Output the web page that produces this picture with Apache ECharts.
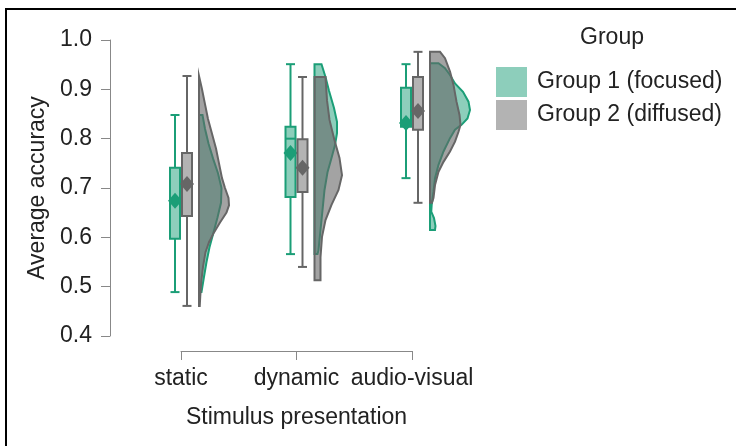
<!DOCTYPE html>
<html>
<head>
<meta charset="utf-8">
<script src="https://cdn.jsdelivr.net/npm/echarts@6/dist/echarts.min.js"></script>
<style>
  html, body { margin: 0; padding: 0; background: #fff; }
  #chart { width: 736px; height: 446px; }
</style>
</head>
<body>
<div id="chart"></div>
<script>
const categories = ['static', 'dynamic', 'audio-visual'];
const groupNames = ['Group 1 (focused)', 'Group 2 (diffused)'];

// box stats: [category, low whisker, q1, median, q3, high whisker, mean]
const group1Box = [
  [0, 0.489, 0.597, 0.675, 0.741, 0.848, 0.674],
  [1, 0.566, 0.682, 0.800, 0.824, 0.951, 0.771],
  [2, 0.720, 0.824, 0.835, 0.903, 0.951, 0.832]
];
const group2Box = [
  [0, 0.461, 0.643, 0.705, 0.771, 0.927, 0.708],
  [1, 0.540, 0.692, 0.740, 0.799, 0.925, 0.741],
  [2, 0.670, 0.818, 0.860, 0.925, 0.976, 0.856]
];

// half-violin density profiles: [accuracy, density]
const staticG1 = [[0.848, 0], [0.848, 0.7], [0.82, 1.2], [0.79, 1.9], [0.76, 2.8], [0.73, 3.8], [0.70, 4.5], [0.67, 4.4], [0.64, 3.7], [0.61, 2.9], [0.58, 2.1], [0.55, 1.5], [0.52, 1.0], [0.489, 0.5], [0.489, 0]];
const staticG2 = [[0.927, 0], [0.90, 0.6], [0.87, 1.2], [0.84, 1.8], [0.81, 2.6], [0.78, 3.4], [0.75, 4.0], [0.72, 4.6], [0.70, 5.2], [0.68, 5.9], [0.665, 6.0], [0.65, 5.5], [0.63, 4.2], [0.61, 3.0], [0.59, 2.0], [0.57, 1.3], [0.54, 0.8], [0.51, 0.45], [0.48, 0.25], [0.461, 0.15], [0.461, 0]];
const dynamicG1 = [[0.951, 0], [0.951, 1.4], [0.925, 2.2], [0.897, 2.9], [0.862, 3.9], [0.834, 4.5], [0.811, 4.5], [0.787, 4.1], [0.761, 3.4], [0.732, 2.6], [0.696, 2.0], [0.655, 1.6], [0.615, 1.2], [0.574, 0.8], [0.566, 0.6], [0.566, 0]];
const dynamicG2 = [[0.925, 0], [0.925, 2.2], [0.878, 2.5], [0.838, 3.0], [0.797, 4.0], [0.761, 5.0], [0.726, 5.5], [0.696, 4.8], [0.666, 3.4], [0.635, 2.2], [0.601, 1.5], [0.560, 1.2], [0.513, 1.2], [0.513, 0]];
const audioVisualG1 = [[0.953, 0], [0.953, 1.7], [0.943, 3.0], [0.929, 4.0], [0.912, 5.0], [0.895, 6.6], [0.875, 7.7], [0.858, 8.0], [0.841, 7.5], [0.828, 6.3], [0.818, 5.0], [0.801, 4.0], [0.774, 2.7], [0.747, 1.7], [0.720, 1.0], [0.692, 0.7], [0.666, 0.34], [0.652, 0.25], [0.639, 0.8], [0.623, 1.1], [0.615, 1.0], [0.615, 0]];
const audioVisualG2 = [[0.976, 0], [0.976, 2.0], [0.963, 3.0], [0.936, 4.0], [0.909, 4.7], [0.875, 5.3], [0.848, 5.9], [0.828, 6.1], [0.814, 5.7], [0.794, 5.0], [0.774, 4.0], [0.753, 2.7], [0.733, 1.7], [0.706, 1.0], [0.68, 0.7], [0.67, 0.4], [0.67, 0]];

const group1Violins = [staticG1, dynamicG1, audioVisualG1];
const group2Violins = [staticG2, dynamicG2, audioVisualG2];

const green = '#1b9e77';
const greenFill = '#8dcebb';
const grey = '#666666';
const greyFill = '#b3b3b3';
const font = 'Liberation Sans, Arial, sans-serif';
const fontSize = 23;

const boxWidth = 10;
const capWidth = 9;
const violinOffset = 18;
const densityScale = 5;

function boxRenderer(offset, stroke, fill) {
  return function (params, api) {
    const cat = api.value(0);
    const x = api.coord([cat, 0])[0] + offset;
    const yLow = api.coord([cat, api.value(1)])[1];
    const yQ1 = api.coord([cat, api.value(2)])[1];
    const yMed = api.coord([cat, api.value(3)])[1];
    const yQ3 = api.coord([cat, api.value(4)])[1];
    const yHigh = api.coord([cat, api.value(5)])[1];
    const yMean = api.coord([cat, api.value(6)])[1];
    const line = { stroke: stroke, lineWidth: 2 };
    return {
      type: 'group',
      children: [
        { type: 'line', shape: { x1: x, y1: yHigh, x2: x, y2: yLow }, style: line },
        { type: 'line', shape: { x1: x - capWidth / 2, y1: yHigh, x2: x + capWidth / 2, y2: yHigh }, style: line },
        { type: 'line', shape: { x1: x - capWidth / 2, y1: yLow, x2: x + capWidth / 2, y2: yLow }, style: line },
        { type: 'rect', shape: { x: x - boxWidth / 2, y: yQ3, width: boxWidth, height: yQ1 - yQ3 }, style: { fill: fill, stroke: stroke, lineWidth: 2 } },
        { type: 'line', shape: { x1: x - boxWidth / 2, y1: yMed, x2: x + boxWidth / 2, y2: yMed }, style: line },
        { type: 'polygon', shape: { points: [[x, yMean - 8], [x + 7, yMean], [x, yMean + 8], [x - 7, yMean]] }, style: { fill: stroke } }
      ]
    };
  };
}

function violinRenderer(profiles, stroke, fill) {
  return function (params, api) {
    const cat = api.value(0);
    const baseX = api.coord([cat, 0])[0] + violinOffset;
    const pts = profiles[cat].map(function (p) {
      return [baseX + p[1] * densityScale, api.coord([cat, p[0]])[1]];
    });
    return {
      type: 'polygon',
      shape: { points: pts },
      style: { fill: fill, stroke: stroke, lineWidth: 2 }
    };
  };
}

function rgba(hex, a) {
  const r = parseInt(hex.slice(1, 3), 16), g = parseInt(hex.slice(3, 5), 16), b = parseInt(hex.slice(5, 7), 16);
  return 'rgba(' + r + ',' + g + ',' + b + ',' + a + ')';
}

const chart = echarts.init(document.getElementById('chart'));
chart.setOption({
  animation: false,
  textStyle: { fontFamily: font },
  grid: { left: 181, right: 324, top: 40, bottom: 110 },
  graphic: [
    { type: 'rect', shape: { x: 6, y: 9, width: 800, height: 500 }, style: { fill: 'none', stroke: '#000', lineWidth: 2 } },
    { type: 'text', x: 612, y: 38, style: { text: 'Group', fontSize: fontSize, fontFamily: font, fill: '#222', textAlign: 'center', textVerticalAlign: 'middle' } }
  ],
  legend: {
    orient: 'vertical',
    left: 496,
    top: 67,
    padding: 0,
    itemWidth: 31,
    itemHeight: 30,
    itemGap: 3,
    icon: 'rect',
    selectedMode: false,
    textStyle: { fontSize: fontSize, color: '#222', fontFamily: font, padding: [0, 0, 0, 5] },
    data: [
      { name: groupNames[0], itemStyle: { color: greenFill, borderWidth: 0 } },
      { name: groupNames[1], itemStyle: { color: greyFill, borderWidth: 0 } }
    ]
  },
  xAxis: {
    type: 'category',
    data: categories,
    boundaryGap: false,
    offset: 15,
    name: 'Stimulus presentation',
    nameLocation: 'middle',
    nameGap: 55,
    nameTextStyle: { fontSize: fontSize, color: '#222' },
    axisLine: { lineStyle: { color: '#888', width: 1 } },
    axisTick: { length: 9, lineStyle: { color: '#888' } },
    axisLabel: { fontSize: fontSize, color: '#222', margin: 16, interval: 0 },
    splitLine: { show: false }
  },
  yAxis: {
    type: 'value',
    min: 0.4,
    max: 1.0,
    interval: 0.1,
    offset: 71,
    name: 'Average accuracy',
    nameLocation: 'middle',
    nameGap: 61,
    nameTextStyle: { fontSize: fontSize, color: '#222' },
    axisLine: { show: true, lineStyle: { color: '#888', width: 1 } },
    axisTick: { show: true, length: 9, lineStyle: { color: '#888' } },
    axisLabel: { fontSize: fontSize, color: '#222', margin: 18, formatter: function (v) { return v.toFixed(1); } },
    splitLine: { show: false }
  },
  series: [
    {
      type: 'custom', name: groupNames[0], clip: false, silent: true,
      itemStyle: { color: greenFill },
      encode: { x: 0, y: 1 },
      data: group1Violins.map(function (p, i) { return [i, p[0][0]]; }),
      renderItem: violinRenderer(group1Violins, green, rgba(green, 0.5))
    },
    {
      type: 'custom', name: groupNames[1], clip: false, silent: true,
      itemStyle: { color: greyFill },
      encode: { x: 0, y: 1 },
      data: group2Violins.map(function (p, i) { return [i, p[0][0]]; }),
      renderItem: violinRenderer(group2Violins, grey, rgba(grey, 0.6))
    },
    {
      type: 'custom', name: groupNames[0], clip: false, silent: true,
      itemStyle: { color: greenFill },
      encode: { x: 0, y: [1, 2, 3, 4, 5, 6] },
      data: group1Box,
      renderItem: boxRenderer(-6, green, greenFill)
    },
    {
      type: 'custom', name: groupNames[1], clip: false, silent: true,
      itemStyle: { color: greyFill },
      encode: { x: 0, y: [1, 2, 3, 4, 5, 6] },
      data: group2Box,
      renderItem: boxRenderer(6, grey, greyFill)
    }
  ]
});
</script>
</body>
</html>
